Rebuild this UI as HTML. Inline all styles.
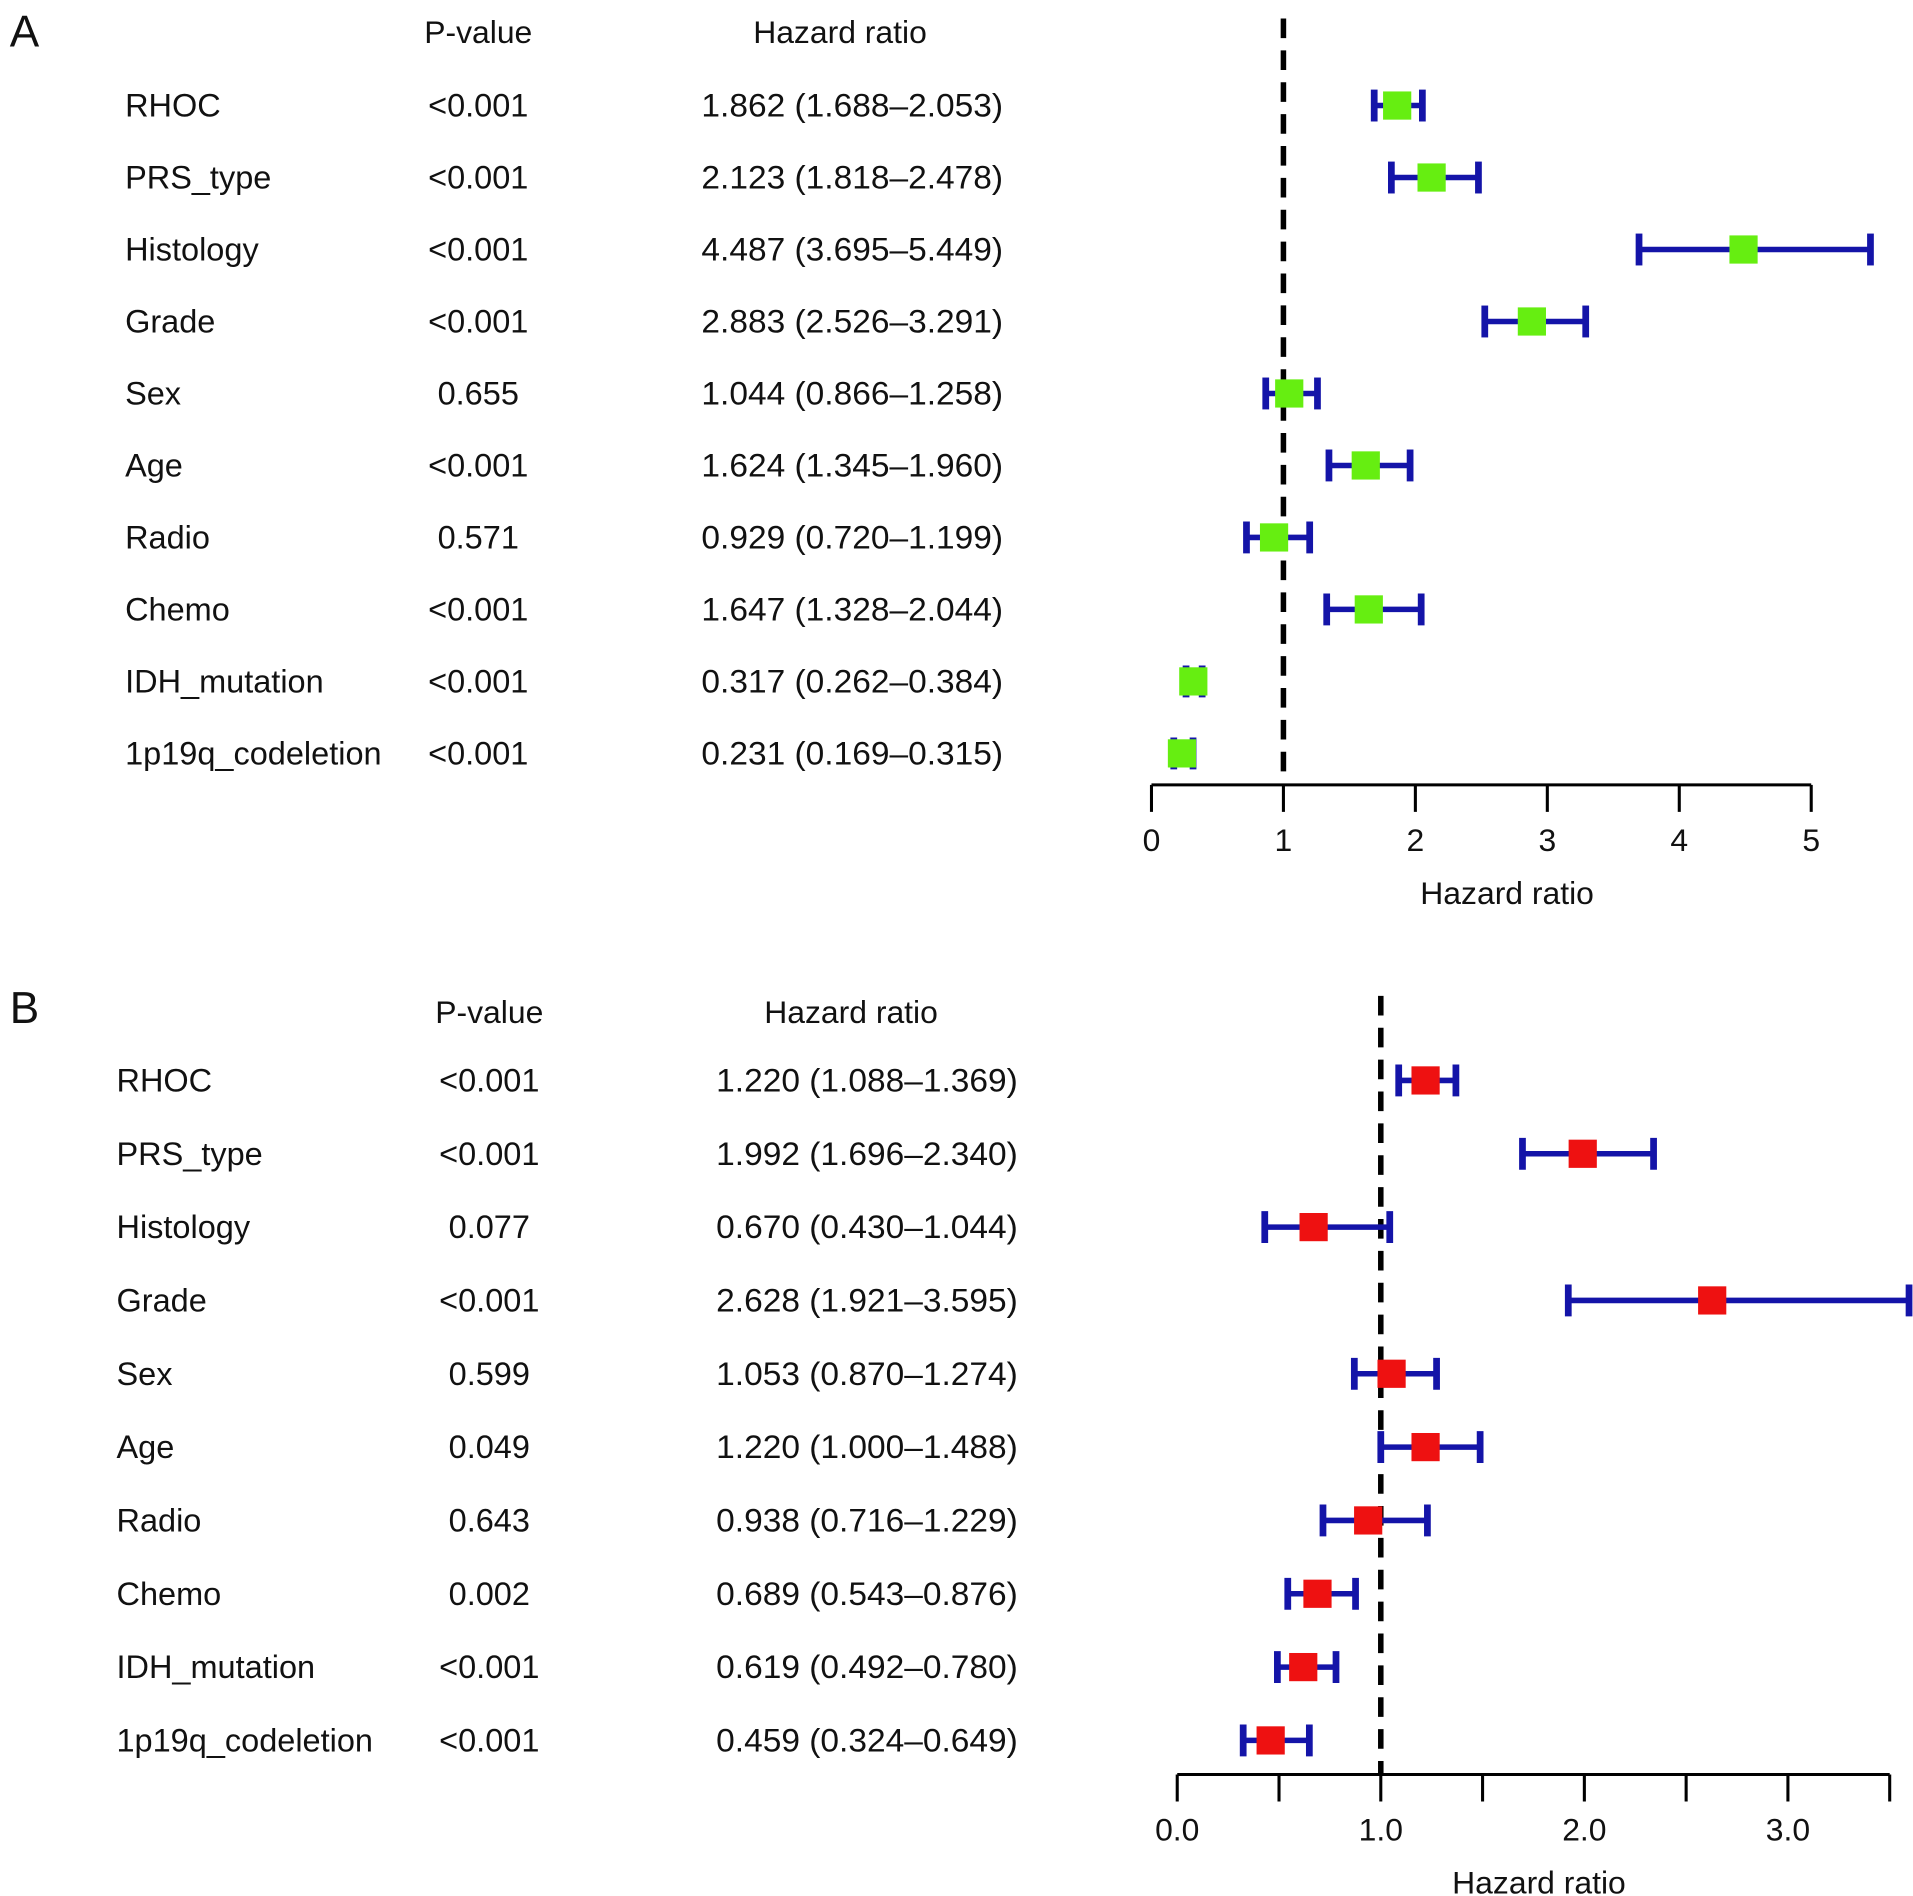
<!DOCTYPE html>
<html><head><meta charset="utf-8"><style>
html,body{margin:0;padding:0;background:#fff}
svg{display:block}
text{font-family:"Liberation Sans",sans-serif;fill:#111}
</style></head><body>
<svg id="chart" width="1913" height="1896" viewBox="0 0 1560 1546" xmlns="http://www.w3.org/2000/svg"></svg>
<script>
const labels = ["RHOC","PRS_type","Histology","Grade","Sex","Age","Radio","Chemo","IDH_mutation","1p19q_codeletion"];
const pA = ["<0.001","<0.001","<0.001","<0.001","0.655","<0.001","0.571","<0.001","<0.001","<0.001"];
const hrA = [1.862,2.123,4.487,2.883,1.044,1.624,0.929,1.647,0.317,0.231];
const loA = [1.688,1.818,3.695,2.526,0.866,1.345,0.720,1.328,0.262,0.169];
const hiA = [2.053,2.478,5.449,3.291,1.258,1.960,1.199,2.044,0.384,0.315];
const pB = ["<0.001","<0.001","0.077","<0.001","0.599","0.049","0.643","0.002","<0.001","<0.001"];
const hrB = [1.220,1.992,0.670,2.628,1.053,1.220,0.938,0.689,0.619,0.459];
const loB = [1.088,1.696,0.430,1.921,0.870,1.000,0.716,0.543,0.492,0.324];
const hiB = [1.369,2.340,1.044,3.595,1.274,1.488,1.229,0.876,0.780,0.649];
const ticksA = [0,1,2,3,4,5];
const tickLabelsA = ["0","1","2","3","4","5"];
const ticksB = [0,0.5,1,1.5,2,2.5,3,3.5];
const tickLabelsB = ["0.0","","1.0","","2.0","","3.0",""];

const svg = document.getElementById('chart');
const NS = "http://www.w3.org/2000/svg";
function mk(tag, attrs, parent){
  const e = document.createElementNS(NS, tag);
  for (const k in attrs) e.setAttribute(k, attrs[k]);
  (parent||svg).appendChild(e);
  return e;
}
function txt(s, x, y, size, anchor, parent){
  const t = mk('text', {x:x, y:y, 'font-size':size, 'text-anchor':anchor||'start'}, parent);
  t.textContent = s;
  return t;
}
function panel(cfg){
  const g = mk('g', {});
  
  
  const xs = v => cfg.x0 + (v - cfg.d0) * cfg.scale;
  const ys = i => cfg.row0 + i * cfg.rowH;
  let t = txt(cfg.letter, 8, cfg.letterY, 36, 'start', g);
  
  
  t = txt('P-value', cfg.pX, cfg.headY, 26, 'middle', g);
  
  
  t = txt('Hazard ratio', cfg.hrHeadX, cfg.headY, 26, 'middle', g);
  
  
  const ref = mk('line', {x1:xs(1), x2:xs(1), y1:cfg.dashTop, y2:cfg.axisY, stroke:'#000', 'stroke-width':4.5, 'stroke-dasharray':'16,10'}, g);
  
  
  for (let i = 0; i < labels.length; i++){
    const y = ys(i);
    let e = txt(labels[i], cfg.labX, y + 9, 26.5, 'start', g);
    
    
    e = txt(cfg.p[i], cfg.pX, y + 9, 26.5, 'middle', g);
    
    
    const s = cfg.hr[i].toFixed(3) + ' (' + cfg.lo[i].toFixed(3) + '\u2013' + cfg.hi[i].toFixed(3) + ')';
    e = txt(s, cfg.hrRight, y + 9, 26.5, 'end', g);
    e.setAttribute('textLength', 246);
    e.setAttribute('lengthAdjust', 'spacingAndGlyphs');
    
    
    const ci = mk('g', {stroke:'#1414a8', 'stroke-width':4.5, fill:'none'}, g);
    
    
    mk('line', {x1:xs(cfg.lo[i]), x2:xs(cfg.hi[i]), y1:y, y2:y}, ci);
    mk('line', {x1:xs(cfg.lo[i]), x2:xs(cfg.lo[i]), y1:y-13, y2:y+13, 'stroke-width':5.5}, ci);
    mk('line', {x1:xs(cfg.hi[i]), x2:xs(cfg.hi[i]), y1:y-13, y2:y+13, 'stroke-width':5.5}, ci);
    const sq = mk('rect', {x:xs(cfg.hr[i]) - 11.5, y:y - 11.5, width:23, height:23, fill:cfg.color}, g);
    
    
  }
  const ax = mk('g', {stroke:'#000', 'stroke-width':2.5}, g);
  
  
  const tk = cfg.ticks;
  mk('line', {x1:xs(tk[0]), x2:xs(tk[tk.length-1]), y1:cfg.axisY, y2:cfg.axisY}, ax);
  for (let j = 0; j < tk.length; j++){
    mk('line', {x1:xs(tk[j]), x2:xs(tk[j]), y1:cfg.axisY, y2:cfg.axisY + 22}, ax);
    if (cfg.tickLabels[j]) {
      const tl = txt(cfg.tickLabels[j], xs(tk[j]), cfg.axisY + 54, 26, 'middle', g);
      
      
    }
  }
  t = txt('Hazard ratio', cfg.titleX, cfg.axisY + 97, 26, 'middle', g);
  
  
}
panel({name:'panel-a', letter:'A', letterY:38, headY:35, p:pA, hr:hrA, lo:loA, hi:hiA, color:'#66ee11',
  x0:939, d0:0, scale:107.6, row0:86, rowH:58.7, labX:102, pX:390, hrHeadX:685, hrRight:818,
  dashTop:15, axisY:640, ticks:ticksA, tickLabels:tickLabelsA, titleX:1229});
panel({name:'panel-b', letter:'B', letterY:834, headY:834, p:pB, hr:hrB, lo:loB, hi:hiB, color:'#ee1111',
  x0:960, d0:0, scale:166, row0:881, rowH:59.8, labX:95, pX:399, hrHeadX:694, hrRight:830,
  dashTop:812, axisY:1447, ticks:ticksB, tickLabels:tickLabelsB, titleX:1255});
</script>
</body></html>
